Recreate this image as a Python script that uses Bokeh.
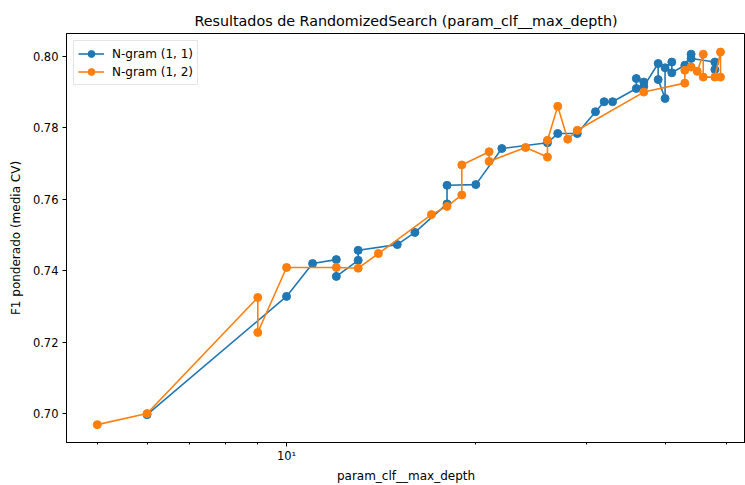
from bokeh.plotting import figure
from bokeh.models import Range1d, FixedTicker, PrintfTickFormatter
from bokeh.embed import file_html
from bokeh.resources import INLINE

# ---- data ----
blue_x = [6, 10, 11, 12, 12, 13, 13, 15, 16, 18, 18, 20, 22, 26, 27, 29, 31, 32, 33,
          36, 36, 37, 37, 39, 39, 40, 40, 41, 41, 43, 44, 44, 48, 48]
blue_y = [0.6997, 0.7328, 0.7420, 0.7431, 0.7384, 0.7429, 0.7457, 0.7473, 0.7507,
          0.7587, 0.7639, 0.7641, 0.7742, 0.7758, 0.7784, 0.7784, 0.7845, 0.7873, 0.7873,
          0.7910, 0.7938, 0.7928, 0.7916, 0.7980, 0.7935, 0.7882, 0.7968, 0.7984, 0.7954,
          0.7975, 0.8006, 0.7994, 0.7984, 0.7963]

orange_x = [5, 6, 9, 9, 10, 12, 13, 14, 17, 18, 19, 19, 21, 21, 24, 26, 26, 27, 28, 29,
            37, 43, 43, 44, 45, 46, 46, 48, 49, 49]
orange_y = [0.6969, 0.7000, 0.7325, 0.7227, 0.7409, 0.7409, 0.7407, 0.7448, 0.7557, 0.7580,
            0.7612, 0.7696, 0.7733, 0.7706, 0.7745, 0.7718, 0.7765, 0.7860, 0.7768, 0.7793,
            0.7900, 0.7925, 0.7961, 0.7970, 0.7958, 0.8006, 0.7942, 0.7942, 0.8012, 0.7942]

series_labels = ["N-gram (1, 1)", "N-gram (1, 2)"]
y_ticks = [0.70, 0.72, 0.74, 0.76, 0.78, 0.80]
x_major = [10]
x_minor = [5, 6, 7, 8, 9, 20, 30, 40, 50]

FONT = "DejaVu Sans"

p = figure(width=745, height=485, x_axis_type="log",
           x_range=Range1d(4.467, 53.7), y_range=Range1d(0.6919, 0.8064),
           output_backend="svg", toolbar_location=None,
           title="Resultados de RandomizedSearch (param_clf__max_depth)",
           min_border_left=66, min_border_right=0, min_border_top=33, min_border_bottom=43)

p.background_fill_color = "white"
p.border_fill_color = "white"
p.outline_line_color = "black"
p.outline_line_width = 1
p.xgrid.visible = False
p.ygrid.visible = False

p.title.align = "center"
p.title.text_font = FONT
p.title.text_font_size = "14.3px"
p.title.text_font_style = "normal"
p.title.text_color = "black"

for ax in (p.xaxis[0], p.yaxis[0]):
    ax.axis_line_color = "black"
    ax.major_tick_line_color = "black"
    ax.minor_tick_line_color = "black"
    ax.major_tick_out = 4
    ax.major_tick_in = 0
    ax.minor_tick_out = 2
    ax.minor_tick_in = 0
    ax.major_label_text_font = FONT
    ax.major_label_text_font_size = "11.5px"
    ax.major_label_text_color = "black"
    ax.axis_label_text_font = FONT
    ax.axis_label_text_font_size = "12px"
    ax.axis_label_text_font_style = "normal"
    ax.axis_label_text_color = "black"

p.xaxis.ticker = FixedTicker(ticks=x_major, minor_ticks=x_minor)
p.xaxis.major_label_overrides = {10: "10¹"}
p.xaxis.axis_label = "param_clf__max_depth"
p.xaxis.major_label_standoff = 2
p.xaxis.axis_label_standoff = 3

p.yaxis.ticker = FixedTicker(ticks=y_ticks, minor_ticks=[])
p.yaxis.formatter = PrintfTickFormatter(format="%.2f")
p.yaxis.axis_label = "F1 ponderado (media CV)"
p.yaxis.major_label_standoff = 4
p.yaxis.axis_label_standoff = 7

BLUE = "#1f77b4"
ORANGE = "#ff7f0e"

p.line(blue_x, blue_y, color=BLUE, line_width=1.6, legend_label=series_labels[0])
p.scatter(blue_x, blue_y, size=8, color=BLUE, legend_label=series_labels[0])
p.line(orange_x, orange_y, color=ORANGE, line_width=1.6, legend_label=series_labels[1])
p.scatter(orange_x, orange_y, size=8, color=ORANGE, legend_label=series_labels[1])

lg = p.legend[0]
lg.location = "top_left"
lg.margin = 7
lg.padding = 4
lg.spacing = 1
lg.glyph_width = 26
lg.glyph_height = 17
lg.label_standoff = 8
lg.label_text_font = FONT
lg.label_text_font_size = "12px"
lg.label_text_color = "black"
lg.border_line_color = "#cccccc"
lg.border_line_width = 1
lg.background_fill_alpha = 0.8

open("out.html", "w").write(file_html(p, INLINE))
